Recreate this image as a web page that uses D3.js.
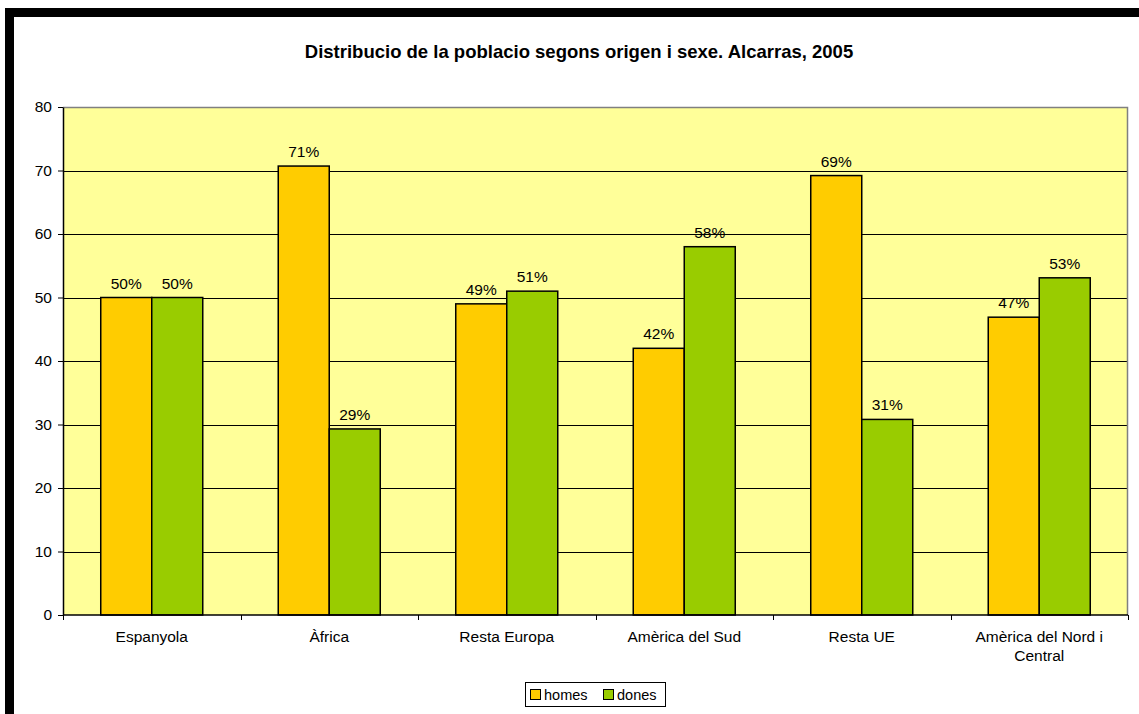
<!DOCTYPE html>
<html>
<head>
<meta charset="utf-8">
<script src="https://cdn.jsdelivr.net/npm/d3@7"></script>
<style>
  body { margin: 0; background: #fff; }
  text { font-family: Arial, "Liberation Sans", sans-serif; fill: #000; }
</style>
</head>
<body>
<script>
// data
const categories = ["Espanyola", "Àfrica", "Resta Europa", "Amèrica del Sud", "Resta UE", "Amèrica del Nord i Central"];
const homes = [50, 70.7, 49, 42, 69.2, 46.9];
const dones = [50, 29.3, 51, 58, 30.8, 53.1];
const seriesNames = ["homes", "dones"];
const seriesColors = ["#FFCC00", "#99CC00"];
const yTicks = [0, 10, 20, 30, 40, 50, 60, 70, 80];

const width = 1139, height = 714;
const plot = { left: 63, top: 107, right: 1128, bottom: 615 };

const svg = d3.select("body").append("svg")
    .attr("width", width).attr("height", height);

// chart frame: thick black border on top and left
svg.append("rect").attr("x", 5).attr("y", 8).attr("width", 1200).attr("height", 800).attr("fill", "#000");
svg.append("rect").attr("x", 14).attr("y", 17).attr("width", 1200).attr("height", 800).attr("fill", "#fff");

svg.append("text")
    .attr("x", 579).attr("y", 58)
    .attr("text-anchor", "middle")
    .style("font-size", "18.5px").style("font-weight", "bold")
    .text("Distribucio de la poblacio segons origen i sexe. Alcarras, 2005");

const x = d3.scaleBand().domain(categories).range([plot.left, plot.right]);
const y = d3.scaleLinear().domain([0, 80]).range([plot.bottom, plot.top]);
const inner = d3.scaleBand().domain(seriesNames).range([0, x.bandwidth()]).paddingOuter(0.74).paddingInner(0);

// plot background
svg.append("rect")
    .attr("x", plot.left).attr("y", plot.top)
    .attr("width", plot.right - plot.left).attr("height", plot.bottom - plot.top)
    .attr("fill", "#FFFF99");

// gridlines
svg.append("g").selectAll("line").data(yTicks.filter(d => d > 0 && d < 80)).join("line")
    .attr("x1", plot.left).attr("x2", plot.right)
    .attr("y1", d => Math.round(y(d)) + 0.5).attr("y2", d => Math.round(y(d)) + 0.5)
    .attr("stroke", "#000").attr("stroke-width", 1);

// plot border (gray top and right)
svg.append("path")
    .attr("d", `M${plot.left},${plot.top + 0.5}H${plot.right - 0.5}V${plot.bottom}`)
    .attr("fill", "none").attr("stroke", "#808080").attr("stroke-width", 1.5);

const rows = categories.map((c, i) => ({ cat: c, vals: [homes[i], dones[i]] }));

const groups = svg.append("g").selectAll("g").data(rows).join("g")
    .attr("transform", d => `translate(${x(d.cat)},0)`);

groups.selectAll("rect").data(d => d.vals.map((v, j) => ({ v, s: seriesNames[j], c: seriesColors[j] }))).join("rect")
    .attr("x", d => inner(d.s))
    .attr("y", d => y(d.v))
    .attr("width", inner.bandwidth())
    .attr("height", d => y(0) - y(d.v))
    .attr("fill", d => d.c)
    .attr("stroke", "#000").attr("stroke-width", 1.5);

groups.selectAll("text").data(d => d.vals.map((v, j) => ({ v, s: seriesNames[j] }))).join("text")
    .attr("x", d => inner(d.s) + inner.bandwidth() / 2)
    .attr("y", d => y(d.v) - 9)
    .attr("text-anchor", "middle")
    .style("font-size", "15.5px")
    .text(d => Math.round(d.v) + "%");

// y axis
const yAxis = svg.append("g")
    .attr("transform", `translate(${plot.left},0)`)
    .call(d3.axisLeft(y).tickValues(yTicks).tickSize(5).tickPadding(6).tickSizeOuter(0));
yAxis.select(".domain").attr("stroke", "#000").attr("stroke-width", 1.5);
yAxis.selectAll("line").attr("stroke", "#000");
yAxis.selectAll("text").style("font-size", "15.5px").style("font-family", "Arial, 'Liberation Sans', sans-serif");

// x axis: ticks at category boundaries
const xg = svg.append("g");
xg.append("line")
    .attr("x1", plot.left).attr("x2", plot.right)
    .attr("y1", plot.bottom).attr("y2", plot.bottom)
    .attr("stroke", "#000").attr("stroke-width", 1.5);
const bounds = categories.map(c => x(c)).concat([plot.right]);
xg.selectAll("line.tick").data(bounds).join("line")
    .attr("class", "tick")
    .attr("x1", d => Math.round(d) + 0.5).attr("x2", d => Math.round(d) + 0.5)
    .attr("y1", plot.bottom).attr("y2", plot.bottom + 5)
    .attr("stroke", "#000");

const labelLines = { "Amèrica del Nord i Central": ["Amèrica del Nord i", "Central"] };
xg.selectAll("text").data(categories).join("text")
    .attr("x", d => x(d) + x.bandwidth() / 2)
    .attr("y", 642)
    .attr("text-anchor", "middle")
    .style("font-size", "15.5px")
    .each(function (d) {
        const lines = labelLines[d] || [d];
        d3.select(this).selectAll("tspan").data(lines).join("tspan")
            .attr("x", x(d) + x.bandwidth() / 2)
            .attr("dy", (l, i) => i === 0 ? 0 : 19)
            .text(l => l);
    });

// legend
const lg = svg.append("g").attr("transform", "translate(525,682)");
lg.append("rect").attr("x", 0.5).attr("y", 0.5).attr("width", 140).attr("height", 24)
    .attr("fill", "#fff").attr("stroke", "#000");
const legendX = [5, 78];
seriesNames.forEach((s, i) => {
    lg.append("rect").attr("x", legendX[i] + 0.5).attr("y", 7.5).attr("width", 10).attr("height", 10)
        .attr("fill", seriesColors[i]).attr("stroke", "#000");
    lg.append("text").attr("x", legendX[i] + 14).attr("y", 18)
        .style("font-size", "14.5px").text(s);
});
</script>
</body>
</html>
